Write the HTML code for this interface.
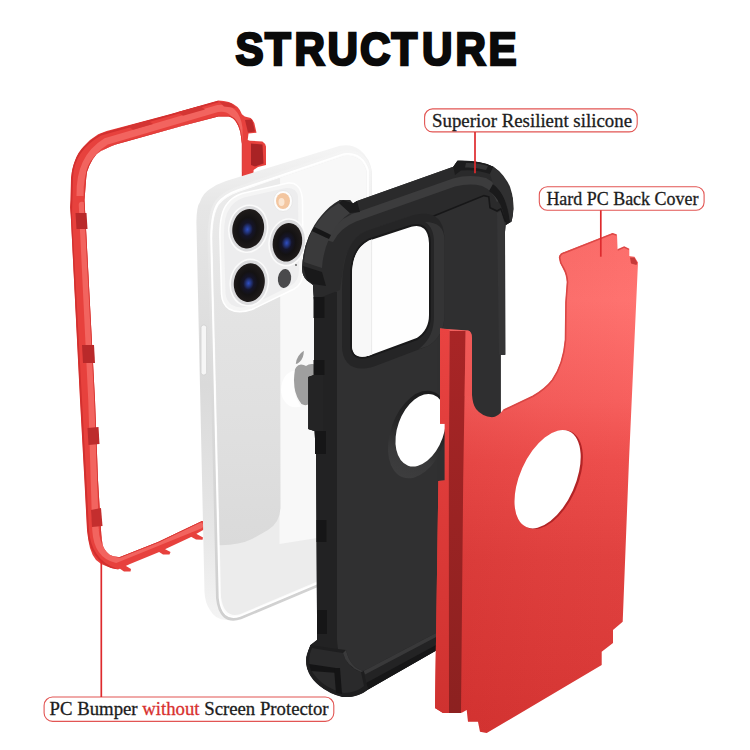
<!DOCTYPE html>
<html lang="en">
<head>
<meta charset="utf-8">
<title>Structure</title>
<style>
  html, body { margin: 0; padding: 0; background: #ffffff; }
  body { width: 750px; height: 750px; overflow: hidden; position: relative; font-family: "Liberation Serif", serif; }
  #art { position: absolute; left: 0; top: 0; width: 750px; height: 750px; display: block; }
  .title { font-family: "Liberation Sans", sans-serif; font-weight: 700; }
  .lbl { font-family: "Liberation Serif", serif; stroke: #1c1c1c; stroke-width: 0.3px; }
</style>
</head>
<body>
<svg id="art" width="750" height="750" viewBox="0 0 750 750">
  <defs>
    <linearGradient id="gRedCover" gradientUnits="userSpaceOnUse" x1="0" y1="233" x2="0" y2="733">
      <stop offset="0" stop-color="#fc6e6b"/>
      <stop offset="0.134" stop-color="#ff7370"/>
      <stop offset="0.334" stop-color="#f7605e"/>
      <stop offset="0.454" stop-color="#ee4f4d"/>
      <stop offset="0.654" stop-color="#e14240"/>
      <stop offset="0.834" stop-color="#dc3c3a"/>
      <stop offset="1" stop-color="#d73735"/>
    </linearGradient>
    <linearGradient id="gRailFace" gradientUnits="userSpaceOnUse" x1="0" y1="328" x2="0" y2="713">
      <stop offset="0" stop-color="#e94341"/>
      <stop offset="0.5" stop-color="#dc3a38"/>
      <stop offset="1" stop-color="#cf3230"/>
    </linearGradient>
    <linearGradient id="gRailGroove" gradientUnits="userSpaceOnUse" x1="0" y1="328" x2="0" y2="713">
      <stop offset="0" stop-color="#a92526"/>
      <stop offset="0.5" stop-color="#9a2323"/>
      <stop offset="1" stop-color="#8c2120"/>
    </linearGradient>
    <linearGradient id="gBlack" x1="0" y1="0" x2="1" y2="0">
      <stop offset="0" stop-color="#1b1b1b"/>
      <stop offset="0.5" stop-color="#2b2b2c"/>
      <stop offset="1" stop-color="#2f2f30"/>
    </linearGradient>
    <linearGradient id="gGlass" gradientUnits="userSpaceOnUse" x1="212" y1="0" x2="372" y2="0">
      <stop offset="0" stop-color="#e0e0e0"/>
      <stop offset="0.36" stop-color="#e7e7e7"/>
      <stop offset="0.5" stop-color="#f5f5f5"/>
      <stop offset="0.65" stop-color="#fbfbfb"/>
      <stop offset="1" stop-color="#fdfdfd"/>
    </linearGradient>
    <linearGradient id="gSide" gradientUnits="userSpaceOnUse" x1="0" y1="150" x2="0" y2="620">
      <stop offset="0" stop-color="#f4f4f4"/>
      <stop offset="0.12" stop-color="#e6e6e6"/>
      <stop offset="0.5" stop-color="#dadada"/>
      <stop offset="0.8" stop-color="#e6e6e6"/>
      <stop offset="1" stop-color="#f4f4f4"/>
    </linearGradient>
    <linearGradient id="gChamfer" gradientUnits="userSpaceOnUse" x1="200" y1="620" x2="370" y2="150">
      <stop offset="0" stop-color="#cfcfcf"/>
      <stop offset="0.45" stop-color="#dadada"/>
      <stop offset="0.8" stop-color="#ececec"/>
      <stop offset="1" stop-color="#f6f6f6"/>
    </linearGradient>
    <linearGradient id="gRefl" gradientUnits="userSpaceOnUse" x1="0" y1="190" x2="0" y2="545">
      <stop offset="0" stop-color="#ebebeb"/>
      <stop offset="0.3" stop-color="#e4e4e4"/>
      <stop offset="0.7" stop-color="#dfdfdf"/>
      <stop offset="1" stop-color="#dadada"/>
    </linearGradient>
    <linearGradient id="gHoleRim" gradientUnits="userSpaceOnUse" x1="410" y1="390" x2="405" y2="480">
      <stop offset="0" stop-color="#1b1b1c"/>
      <stop offset="0.45" stop-color="#262627"/>
      <stop offset="0.75" stop-color="#39393a"/>
      <stop offset="1" stop-color="#3d3d3e"/>
    </linearGradient>
    <linearGradient id="gCoverShade" gradientUnits="userSpaceOnUse" x1="440" y1="0" x2="640" y2="0">
      <stop offset="0" stop-color="#b01010" stop-opacity="0.16"/>
      <stop offset="0.5" stop-color="#b01010" stop-opacity="0.06"/>
      <stop offset="1" stop-color="#b01010" stop-opacity="0"/>
    </linearGradient>
    <radialGradient id="gLens" cx="0.48" cy="0.52" r="0.5">
      <stop offset="0" stop-color="#2f4fc4"/>
      <stop offset="0.16" stop-color="#23357f"/>
      <stop offset="0.34" stop-color="#15152a"/>
      <stop offset="0.6" stop-color="#141213"/>
      <stop offset="1" stop-color="#1f1b1a"/>
    </radialGradient>
    <clipPath id="cpFrame"><path clip-rule="evenodd" d="M70.200,215 L71,178.200 Q72,168 75,160.600 Q78,152 83.800,146.200 Q90,139 98.200,134.200 Q107,130.500 119,127.800 L170,114.300 L218.400,100.400 Q224,100.500 228.700,101.900 Q233.500,103.500 237.500,107 Q240.500,110 241.900,114.300 L244.800,116.500 L250.700,118 Q253,120 254.300,123.100 L256.500,132.700 L248.500,133.400 L247.700,140 L250,140.700 L262.400,141.500 Q265,143 266,146.600 L266,165 L258,167 L253.600,170 L253,182 L241.900,182 L241.900,143.700 L240.400,132 Q239,126 236,121.700 Q233,117.500 228.700,116.500 L218.400,116.500 L181.700,126 L123.800,142.200 Q114,144.500 107.800,147.800 Q101,150.500 96.600,154.200 Q92,159 89.400,165.400 Q86.500,171 86.200,178.200 L84.500,200 L95,400 L98,480 L101,530 Q101.500,540 103,546 Q105.500,552 110,555 Q114,557.500 120,557 L158,542 L202,521 L204,521 L204,529.500 L190,537.500 L158,552.500 L130,564 L118,569.500 Q111,568.500 106,566 Q100,564 96,560 Q92,555 90,548 Q88,540 87,530 L84.400,480 L80,400 L70,200 Z"/></clipPath>
    <clipPath id="cpGlass"><path d="M212.500,238 Q213,214 219,205 Q225,197 239,192 L344,156 Q361,154 366.500,171 L367,560 L316,582 L240.500,614 Q224,619 221,597 Z"/></clipPath>
  </defs>

  <rect width="750" height="750" fill="#ffffff"/>

  <!-- ===== red PC bumper frame ===== -->
  <g id="bumper">
    <!-- frame silhouette (outer minus inner) -->
    <path fill-rule="evenodd" fill="#e7413d" d="M70.200,215 L71,178.200 Q72,168 75,160.600 Q78,152 83.800,146.200 Q90,139 98.200,134.200 Q107,130.500 119,127.800 L170,114.300 L218.400,100.400 Q224,100.500 228.700,101.900 Q233.500,103.500 237.500,107 Q240.500,110 241.900,114.300 L244.800,116.500 L250.700,118 Q253,120 254.300,123.100 L256.500,132.700 L248.500,133.400 L247.700,140 L250,140.700 L262.400,141.500 Q265,143 266,146.600 L266,165 L258,167 L253.600,170 L253,182 L241.900,182 L241.900,143.700 L240.400,132 Q239,126 236,121.700 Q233,117.500 228.700,116.500 L218.400,116.500 L181.700,126 L123.800,142.200 Q114,144.500 107.800,147.800 Q101,150.500 96.600,154.200 Q92,159 89.400,165.400 Q86.500,171 86.200,178.200 L84.500,200 L95,400 L98,480 L101,530 Q101.500,540 103,546 Q105.500,552 110,555 Q114,557.500 120,557 L158,542 L202,521 L204,521 L204,529.500 L190,537.500 L158,552.500 L130,564 L118,569.500 Q111,568.500 106,566 Q100,564 96,560 Q92,555 90,548 Q88,540 87,530 L84.400,480 L80,400 L70,200 Z"/>
    <g clip-path="url(#cpFrame)">
    <!-- lighter translucent inner stripe -->
    <path fill="none" stroke="#f2645f" stroke-width="6.500" stroke-linecap="round" d="M82,205 L91.500,400 L95.500,530 Q97,555 116,559.500 L200,525.500"/>
    <path fill="none" stroke="#f2645f" stroke-width="7" d="M80,196 Q79,158 106,141.500 L218,108.500 Q236,106 239,128 L239.500,172"/>
    <!-- darker outer rim -->
    <path fill="none" stroke="#d2302f" stroke-width="2" d="M71,215 L72,178 Q73,150 101,134.500 L218.400,101.400"/>
    <path fill="none" stroke="#d2302f" stroke-width="2" d="M71,215 L81,400 L85.400,480 L88,530 Q90,560 116,569.500"/>
      <path fill="none" stroke="#d63431" stroke-width="1.600" d="M84.500,200 L95,400 L98,480 L101,530 Q102,556 120,557 L158,542 L202,521"/>
      <path fill="none" stroke="#d63431" stroke-width="1.600" d="M84.500,200 L86.200,178.200 Q87,152 123.800,142.200 L218.400,116.500 L228.700,116.500 Q240,118 241.900,143.700 L241.900,176"/>
    </g>
    <!-- little feet under the bottom bar -->
    <path d="M116,566 L121,563 L131,569 L130.500,571.500 L124,571.500 Z" fill="#e7413d"/>
    <path d="M156,550 L161,547 L170.500,552 L169.500,554.500 L163,554.500 Z" fill="#e7413d"/>
    <path d="M188,535 L193,532 L203,537.500 L202.500,539.800 L196,539.500 Z" fill="#e7413d"/>
    <!-- clips on the bars -->
    <path d="M75.500,213 L86.500,213 L87.500,229 L76.500,229 Z" fill="#b9292a"/>
    <path d="M82,345 L94,345 L95,363 L83,363 Z" fill="#b9292a"/>
    <path d="M91,510 L101,508 L102.500,526 L92,527 Z" fill="#c42e2e"/>
    <path d="M87.500,428 L98.500,427 L99.500,444 L88.500,445 Z" fill="#bd2b2c"/>
    <path d="M128,126 L148,120.500 L153,124 L133,129.700 Z" fill="#d43533"/>
    <path d="M178,112 L200,106 L205,109.500 L183,115.700 Z" fill="#d43533"/>
    <path d="M219,101.500 L231,103 L236,108 L224,106.500 Z" fill="#d43533"/>
    <path d="M245,120 L252,119.500 L255,131.500 L248,132.500 Z" fill="#b9292a"/>
    <path d="M251,143.500 L262.500,144.500 L263.500,163.500 L255,166.500 L251,165 Z" fill="#a92325"/>
  </g>

  <!-- ===== phone ===== -->
  <g id="phone">
    <!-- body (side band) -->
    <path d="M196.400,222 Q196.600,206 200,202 Q203,193 210,189 Q217,184 226,181 L340,145.700 Q352,143.500 360,150 Q370,158 372,172 L372,560 L316,584 L233,619 Q217,623 210,610 Q205,603 204.500,592 Z" fill="url(#gSide)"/>
    <!-- grey chamfer next to rim -->
    <path d="M211,236 Q211.500,212 218,203 Q224,195 238,190 L344,154 Q362,152 368,170 L368.500,560 L316,584 L240,616 Q222,622 219.500,598 Z" fill="none" stroke="url(#gChamfer)" stroke-width="7"/>
    <!-- bright rim -->
    <path d="M211,236 Q211.500,212 218,203 Q224,195 238,190 L344,154 Q362,152 368,170 L368.500,560 L316,584 L240,616 Q222,622 219.500,598 Z" fill="#fbfbfb" stroke="#ffffff" stroke-width="1.6"/>
    <!-- back glass -->
    <g clip-path="url(#cpGlass)">
      <rect x="205" y="140" width="175" height="490" fill="#ececec"/>
      <path d="M279.500,140 L380,140 L380,528 L279.500,544 Z" fill="#f8f8f8"/>
      <path d="M205,140 L280,140 L280.500,505 Q281,522 268,530 L252,539 Q238,546 215,545 Z" fill="url(#gRefl)"/>
    </g>
    <!-- side button -->
    <rect x="201" y="325" width="5.600" height="50" rx="2.500" fill="#f6f6f6" stroke="#cfcfcf" stroke-width="0.8"/>
    <!-- camera bump -->
    <path d="M220,240 Q219,214 227,204 Q232,197 242,193.500 L288,183 Q298,182 301,192 Q302.500,196 302.500,204 L303,272 Q303,284 294,289 L252,309.500 Q238,314 229,309 Q222,304 221.500,294 Z" fill="#f5f5f5" stroke="#ffffff" stroke-width="1.500"/>
    <path d="M224,241 Q223,217 230,208 Q234,201 244,197.500 L286,188 Q296,187 298,196 L299,270 Q299,281 291,285.500 L251,305.500 Q239,309.500 232,305 Q226,301 225.500,293 Z" fill="#ededee"/>
    <!-- lenses -->
    <g>
      <ellipse cx="248.200" cy="228.700" rx="19.300" ry="23.600" transform="rotate(10 248.200 228.700)" fill="#dcdcde" stroke="#fbfbfb" stroke-width="1.600"/>
      <ellipse cx="248.200" cy="228.700" rx="15.800" ry="19.800" transform="rotate(10 248.200 228.700)" fill="url(#gLens)"/>
      <ellipse cx="287.400" cy="242.300" rx="18.200" ry="23.400" transform="rotate(10 287.400 242.300)" fill="#dcdcde" stroke="#fbfbfb" stroke-width="1.600"/>
      <ellipse cx="287.400" cy="242.300" rx="14.600" ry="19.400" transform="rotate(10 287.400 242.300)" fill="url(#gLens)"/>
      <ellipse cx="249.300" cy="282.600" rx="19" ry="23.300" transform="rotate(10 249.300 282.600)" fill="#dcdcde" stroke="#fbfbfb" stroke-width="1.600"/>
      <ellipse cx="249.300" cy="282.600" rx="15.400" ry="19.400" transform="rotate(10 249.300 282.600)" fill="url(#gLens)"/>
    </g>
    <!-- flash, lidar, mic -->
    <ellipse cx="283" cy="201" rx="9.500" ry="10.500" fill="#fdfdfd" stroke="#e4e4e4" stroke-width="0.8"/>
    <ellipse cx="283" cy="201" rx="7" ry="8" fill="#f3c6a0"/>
    <ellipse cx="281.500" cy="202" rx="3" ry="4" fill="#fbe6d2"/>
    <ellipse cx="284.500" cy="278.500" rx="6.600" ry="9.500" transform="rotate(8 284.500 278.500)" fill="#4a4a4c"/>
    <circle cx="296" cy="265" r="0.900" fill="#555555"/>
    <!-- logo (partly hidden by the case) -->
    <path d="M295.800,364 Q296.500,355.500 303.800,350.800 Q304,358 299.500,362 Q297.500,364 295.800,364 Z" fill="#9b9b9b"/>
    <path d="M294.500,372 Q295,365.500 301,364.500 Q304,364.500 306,366 Q309,363.500 313,364 L316,365 L316,404 Q311,406 308,404.500 Q305,406 301.500,404 Q296,397 294.500,388 Q293.500,379 294.500,372 Z" fill="#9f9f9f"/>
    <path d="M281,390 Q282,373 294.500,370.500 Q293,380 294.500,391 Q296.500,401 301,406.500 Q291,409 286,403 Q281,397 281,390 Z" fill="#fefefe"/>
  </g>

  <!-- ===== black silicone case ===== -->
  <g id="case">
    <!-- outer silhouette -->
    <path d="M314,300 L313,285 L307,280.500 Q302,276 302,268 Q303,250 309,236 Q314,224 321,216 Q330,205 340,200 L350,200 L353,203.500 L357,201 L453.300,166.700 L457.500,160.800 Q467,160.500 478.300,162.500 Q487,164 493.300,166.700 Q499,170 503.300,175.800 Q508,182 510,186.700 Q512.500,194 513,200 L513.300,209 Q513,217 511.300,221.700 L505.800,225 L505,232 L505.300,354.700 L500.700,354.700 L500.700,420 L501,632 L437,650 L368,689.500 Q361,695.500 350,697 Q336,697.500 324,689 Q311,680 307,668 Q305,660 307,654 L310.500,645 L317,640 L317,614 L316,454 L314.500,431 L308.300,429 L308.300,377 L314,375 Z" fill="#303031"/>
    <!-- darker side wall on the left -->
    <path d="M313,285 L337,292 L337,640 Q338,660 346,668 L363.700,671 L368,689.500 Q350,702 324,689 Q304,676 306.500,657 L310.500,645 L317,640 L317,614 L316,454 L314.500,431 L308.300,429 L308.300,377 L314,375 L314,300 Z" fill="#222223"/>
    <!-- top wall (thick band, seen in perspective) -->
    <path d="M357,201 L453.300,166.700 L457.500,160.800 Q480,160 493.300,166.700 Q508,178 513,200 L513.300,209 Q513,217 511.300,221.700 L505.800,225 L505.600,222 L500.800,208.800 L497,211 L490,207.600 L488.800,196.800 L484,195.600 L419,222 L412,215.500 L366,231 Q350,238 344,262 L340,290 L314,300 L313,285 L307,280.500 Q302,276 302,268 Q303,250 309,236 Q321,212 340,200 L350,200 L353,203.500 Z" fill="#2a2a2b"/>
    <!-- highlight stripe along the top wall -->
    <path d="M352,214 L453,178.500 Q470,174 486,178 Q498,184 503,198 L497,202 Q492,190 482,186 Q470,183 455,186.500 L356,221.500 Q340,228 333,242 L326,240 Q334,222 352,214 Z" fill="#3c3c3d"/>
    <!-- corner bumper ribs (top-left) -->
    <path d="M304,262 Q305,246 312,231 L329,239 Q323,252 322,268 Z" fill="#3a3a3b"/>
    <path d="M314.500,227 Q324,211 339,203 L350,213 Q338,221 331,235 Z" fill="#3d3d3e"/>
    <path d="M303,266 L322,272 L326,286 L313,284 L307,280 Z" fill="#19191a"/>
    <path d="M312,231 L314.500,227 L331,235 L329,239 Z" fill="#161617"/>
    <path d="M339,203 L343,200 L353,203.500 L357,201 L360,212 L350,213 Z" fill="#1a1a1b"/>
    <!-- corner bumper (top-right) -->
    <path d="M457.500,160.800 Q480,160 493.300,166.700 L490,174 Q476,169 461,170.500 L455,175 L453.300,166.700 Z" fill="#1c1c1d"/>
    <path d="M466,163 Q478,162.500 488,166 L486,170 Q476,167 465,167.500 Z" fill="#343435"/>
    <path d="M493,184 Q505,190 510,222 L505.800,225 Q503,201 489,191 Z" fill="#1a1a1b"/>
    <path d="M493.300,166.700 Q508,178 513,200 L513.300,209 L511.300,221.700 L510,222 Q508,196 493,184 L490,174 Z" fill="#303031"/>
    <!-- inner face slightly different tone -->
    <path d="M419,222 L484,195.600 L488.800,196.800 L490,207.600 L497,211 L500.800,208.800 L505.600,222 L505,232 L505.300,354.700 L500.700,354.700 L500.700,420 L501,632 L437,650 L437,250 Z" fill="#2f2f30"/>
    <path d="M419,222 L484,195.600 L488.800,196.800 L490,207.600 L497,211 L500.800,208.800 L505.600,222" fill="none" stroke="#171718" stroke-width="1.6"/>
    <path d="M497,213 L500.800,211 L504.500,224 L505,354.700 L499,354.700 Z" fill="#353536"/>
    <!-- camera cut-out rim -->
    <path d="M342,292 C342,256 350,238 366,231 L412,215.500 C434,210 444,218 444.500,240 L444.500,314 C444.500,330 438,340 428,346 L374,366.500 C354,373 342,364 342,346 Z" fill="#252526"/>
    <path d="M425,222 C438,222 444.500,228 444.500,240 L444.500,314 C444.500,330 438,340 428,346 L419,349 C430,340 434,330 434,316 L434,243 C434,232 431,226 425,222 Z" fill="#343435"/>
    <path d="M351,276 C351,258 356,246 369,239.500 L411,225.800 C423,222.500 429.500,229 430,243 L430,315 C430,327 425,334 417,339 L369,356.600 C358,360 351,356 351,345 Z" fill="#fefefe" stroke="#19191a" stroke-width="2"/>
    <path d="M352,276 C352,258 357,247 369,240.500 L371.600,239.500 L371.600,354.700 L369,355.600 C358,359 352,355 352,345 Z" fill="#f8f8f8"/>
    <path d="M371.600,239.500 L371.600,354.700" stroke="#e3e3e3" stroke-width="0.7" fill="none"/>
    <!-- round hole rim + hole -->
    <ellipse cx="418" cy="434.500" rx="27.500" ry="45.500" transform="rotate(19.600 418 434.500)" fill="url(#gHoleRim)"/>
    <ellipse cx="420.700" cy="430.250" rx="23.200" ry="37.650" transform="rotate(19.600 420.700 430.250)" fill="#ffffff"/>
    <!-- side ridges and button -->
    <rect x="313.500" y="297" width="11" height="21" fill="#161617"/>
    <rect x="313.500" y="360" width="11" height="15" fill="#161617"/>
    <rect x="315" y="431" width="11" height="23" fill="#161617"/>
    <path d="M308.300,377 L314,375 L323,375 L323,431 L314.500,431 L308.300,429 Z" fill="#242425"/>
    <rect x="316.500" y="520" width="10" height="22" fill="#161617"/>
    <rect x="317" y="610" width="10" height="24" fill="#161617"/>
    <!-- bottom lip -->
    <path d="M363.700,671 L437,632.600 L437,650 L368,689.500 Z" fill="#232324"/>
    <path d="M363.700,671 L437,632.600 L437,636.500 L365,674.500 Z" fill="#39393a"/>
    <path d="M366,683 L437,644.500 L437,650 L368,689.500 Z" fill="#161617"/>
    <!-- bottom-left corner bumper -->
    <path d="M310.500,645 Q304,658 308,670 Q318,690 342,697 Q358,698 368,689.500 L363.700,671 Q350,668 346,650 L330,648 Z" fill="#1e1e1f"/>
    <path d="M312,648 L330,651 L343,653 Q346,664 356,670 L361,672 L364,686 Q356,693 344,693 Q322,688 311,670 Q307,659 312,648 Z" fill="#2a2a2b"/>
    <path d="M309,664 L336,668 L338,673 L311,671 Z" fill="#141415"/>
    <path d="M334,668 L340,668 L342,694 L336,693 Z" fill="#141415"/>
    <path d="M343,653 Q346,666 361,672 L363.700,671 Q350,668 346,650 Z" fill="#3a3a3b"/>
  </g>

  <!-- ===== red back cover ===== -->
  <g id="cover">
    <!-- main plate -->
    <path d="M440,328.600 L468,330.500 Q472,331.500 472,338 L472,395 Q472.500,404 476,409 Q482,416.500 492,417.300 Q498,417 503,410 L532.700,396 Q545,389 552,380 Q563,364 565,340 L565.500,302 L567,282 Q566.500,274 563,268 Q559.500,263 559,257.500 Q560,253.500 564,252.300 L612.500,233.200 L617,234.700 L617.600,250 L624.200,247 L629.300,249.300 L629.300,256 L634.500,256.700 L638,262.500 L629,460 L622.700,621.700 L613,630 L613,643 L601.700,651.700 L601.700,665 L486.700,733 L480,731.700 L478,721.700 L468,721.700 L466.700,710 L461.700,712.700 L443,713 L435,708 L438.400,481 L444.800,480.400 L444.800,423.800 L440,423.800 Z" fill="url(#gRedCover)"/>
    <path d="M440,328.600 L468,330.500 Q472,331.500 472,338 L472,395 Q472.500,404 476,409 Q482,416.500 492,417.300 Q498,417 503,410 L532.700,396 Q545,389 552,380 Q563,364 565,340 L565.500,302 L567,282 Q566.500,274 563,268 Q559.500,263 559,257.500 Q560,253.500 564,252.300 L612.500,233.200 L617,234.700 L617.600,250 L624.200,247 L629.300,249.300 L629.300,256 L634.500,256.700 L638,262.500 L629,460 L622.700,621.700 L613,630 L613,643 L601.700,651.700 L601.700,665 L486.700,733 L480,731.700 L478,721.700 L468,721.700 L466.700,710 L461.700,712.700 L443,713 L435,708 L438.400,481 L444.800,480.400 L444.800,423.800 L440,423.800 Z" fill="url(#gCoverShade)"/>
    <!-- rail: left light face -->
    <path d="M440,328.600 L449.600,329.500 L448.800,480 L449,713 L443,713 L435,708 L438.400,481 L444.800,480.400 L444.800,423.800 L440,423.800 Z" fill="url(#gRailFace)"/>
    <!-- rail: dark groove -->
    <path d="M449.600,331 L465.600,331 L463.200,480 L461,712.900 L449,713 L448.800,480 Z" fill="url(#gRailGroove)"/>
    <!-- rail: right lip at top -->
    <path d="M465.600,330.500 L468,330.500 Q472,331.500 472,338 L472,396 L464.600,396 Z" fill="#ee5351" opacity="0.5"/>
    <!-- left edge of tall part -->
    <path d="M564,252.800 Q560,254 559.600,257.500 Q560,263 563.500,268 Q567,274 567.500,282 L566,302 L565.500,340 Q563.500,364 552.500,380 Q545.500,389 533,396.300 L503.500,410.300" fill="none" stroke="#d94644" stroke-width="1.600"/>
    <!-- top edge thickness + small recess -->
    <path d="M564,252.900 L612.500,233.800 L616.400,235" fill="none" stroke="#dd4846" stroke-width="1.600"/>
    <path d="M617.600,250 L624.200,247 L629,249.300" fill="none" stroke="#dd4846" stroke-width="1.400"/>
    <path d="M630,257.500 L634.500,257.500 L637.300,262.500 L636.500,265 L631,263.500 Z" fill="#c63a39"/>
    <!-- circular hole -->
    <ellipse cx="549.400" cy="479.600" rx="28.200" ry="52.600" transform="rotate(24 549.400 479.600)" fill="#b22426"/>
    <ellipse cx="547.600" cy="479.200" rx="27.700" ry="52.400" transform="rotate(24 547.600 479.200)" fill="#ffffff"/>
  </g>

  <!-- ===== labels ===== -->
  <g id="labels" fill="none" stroke="#e25553" stroke-width="1.1">
    <rect x="424.600" y="108.900" width="212.600" height="23" rx="8" fill="#ffffff"/>
    <rect x="539.300" y="186.800" width="164.800" height="23.400" rx="8" fill="#ffffff"/>
    <rect x="44.100" y="697" width="289.700" height="24.400" rx="8.500" fill="#ffffff"/>
    <line x1="475" y1="132" x2="475" y2="173.300" stroke="#de2a2d" stroke-width="1.7"/>
    <line x1="600.800" y1="210.300" x2="600.800" y2="256.700" stroke="#de2a2d" stroke-width="1.7"/>
    <line x1="101.300" y1="560" x2="101.300" y2="697" stroke="#de2a2d" stroke-width="1.7"/>
  </g>
  <text class="title" transform="scale(0.900 1)" x="261.78 294.56 327.22 364.00 399.89 435.00 468.89 506.11 542.78" y="65.100" font-size="46.8" fill="#0a0a0a" stroke="#0a0a0a" stroke-width="2.6" stroke-linejoin="miter">STRUCTURE</text>
  <text class="lbl" x="432" y="126.800" font-size="18.500" fill="#1c1c1c" textLength="200" lengthAdjust="spacingAndGlyphs">Superior Resilient silicone</text>
  <text class="lbl" x="546.400" y="204.600" font-size="18.500" fill="#1c1c1c" textLength="152" lengthAdjust="spacingAndGlyphs">Hard PC Back Cover</text>
  <text class="lbl" x="49.600" y="715" font-size="19" fill="#1c1c1c" textLength="279" lengthAdjust="spacingAndGlyphs">PC Bumper <tspan fill="#d8302e" stroke="#d8302e">without</tspan> Screen Protector</text>
</svg>
</body>
</html>
